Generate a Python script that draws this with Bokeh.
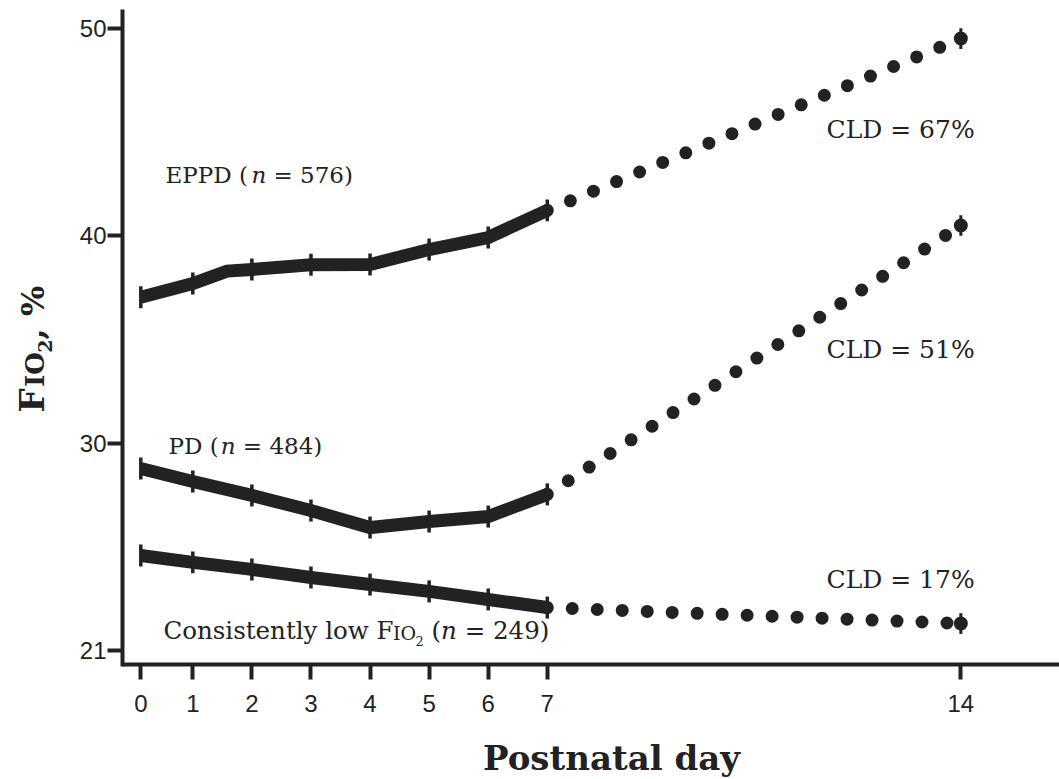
import numpy as np
from bokeh.plotting import figure
from bokeh.models import Range1d, FixedTicker, Label
from bokeh.embed import file_html
from bokeh.resources import INLINE

# ---------------- data ----------------
eppd_days = [0.12, 1, 1.58, 2, 3, 4, 5, 6, 7]
eppd_vals = [37.04, 37.70, 38.30, 38.38, 38.61, 38.62, 39.34, 39.92, 41.23]
days = [0.12, 1, 2, 3, 4, 5, 6, 7]
pd_vals = [28.78, 28.15, 27.48, 26.75, 25.93, 26.22, 26.46, 27.53]
low_vals = [24.58, 24.25, 23.91, 23.52, 23.18, 22.85, 22.46, 22.07]
eppd_err_days = [0.12, 1, 2, 3, 4, 5, 6, 7]
eppd_err_vals = [37.04, 37.70, 38.38, 38.61, 38.62, 39.34, 39.92, 41.23]
end_day = 14
eppd_end = 49.52
pd_end = 40.50
low_end = 21.30
err_solid = 0.53
err_end = 0.50

x_ticks = [0.12, 1, 2, 3, 4, 5, 6, 7, 14]
x_tick_labels = ["0", "1", "2", "3", "4", "5", "6", "7", "14"]
y_ticks = [20, 30, 40, 50]
y_tick_labels = ["21", "30", "40", "50"]
x_axis_min = -0.19
y_axis_min, y_axis_max = 19.32, 50.92

clds = ["CLD = 67%", "CLD = 51%", "CLD = 17%"]

# ---------------- layout ----------------
C = "#222222"
W, H = 1059, 779
AX_L, AX_T = 122, 9          # pixel position of the y axis / top of the y axis
SX, SY = 59.08, 20.73        # pixels per day / per percent
XL = x_axis_min - AX_L / SX
YTOP = y_axis_max + AX_T / SY
XR = XL + W / SX
YBOT = YTOP - H / SY
BL = 0.36                    # baseline correction, in em


def dx(px):
    return XL + px / SX


def dy(py):
    return YTOP - py / SY


p = figure(frame_width=W, frame_height=H,
           x_range=Range1d(XL, XR), y_range=Range1d(YBOT, YTOP),
           output_backend="svg", toolbar_location=None,
           min_border_left=0, min_border_right=0,
           min_border_top=0, min_border_bottom=0)
p.outline_line_color = None
p.xgrid.visible = False
p.ygrid.visible = False
p.background_fill_color = "white"
p.border_fill_color = "white"

for ax, ticks, labels in ((p.xaxis[0], x_ticks, x_tick_labels),
                          (p.yaxis[0], y_ticks, y_tick_labels)):
    ax.ticker = FixedTicker(ticks=ticks)
    ax.major_label_overrides = {t: l for t, l in zip(ticks, labels)}
    ax.axis_line_width = 4
    ax.axis_line_color = C
    ax.major_tick_line_width = 4
    ax.major_tick_line_color = C
    ax.major_tick_out = 15
    ax.major_tick_in = 0
    ax.minor_tick_line_color = None
    ax.major_label_text_font = "Liberation Sans"
    ax.major_label_text_font_size = "24px"
    ax.major_label_text_color = C
p.xaxis.fixed_location = y_axis_min
p.xaxis.bounds = (x_axis_min, XR)
p.yaxis.fixed_location = x_axis_min
p.yaxis.bounds = (y_axis_min - 2 / SY, y_axis_max)
p.xaxis.major_label_standoff = 15
p.yaxis.major_label_standoff = 1

# solid lines
for xs, ys in ((eppd_days, eppd_vals), (days, pd_vals), (days, low_vals)):
    p.line(xs, ys, line_width=13, line_color=C, line_join="miter", line_cap="butt")

# dotted lines to day 14
for v7, v14 in ((eppd_vals[-1], eppd_end), (pd_vals[-1], pd_end), (low_vals[-1], low_end)):
    p.line([7, end_day], [v7, v14], line_width=13, line_color=C,
           line_dash="0 25", line_cap="round")

# error bars on solid segments
for xs, ys in ((eppd_err_days, eppd_err_vals), (days, pd_vals), (days, low_vals)):
    p.segment(x0=xs, y0=[v - err_solid for v in ys], x1=xs, y1=[v + err_solid for v in ys],
              line_width=3.5, line_color=C)

ends = [eppd_end, pd_end, low_end]
p.scatter([end_day] * 3, ends, size=14, marker="circle", fill_color=C, line_color=None)
p.segment(x0=[end_day] * 3, y0=[v - err_end for v in ends], x1=[end_day] * 3,
          y1=[v + err_end for v in ends], line_width=3, line_color=C)

# ---------------- texts ----------------
EM = {' ': 0.318, '(': 0.390, ')': 0.390, '=': 0.838, '%': 0.950, ',': 0.318,
      'E': 0.730, 'P': 0.733, 'D': 0.830, 'C': 0.734, 'L': 0.694, 'F': 0.702,
      'I': 0.365, 'O': 0.820, 'o': 0.602, 'n': 0.644, 's': 0.513, 'i': 0.320,
      't': 0.402, 'e': 0.592, 'l': 0.320, 'y': 0.565, 'w': 0.856}
EMB = {'F': 0.753, 'I': 0.468, 'O': 0.850, '2': 0.696, ',': 0.380, ' ': 0.348, '%': 1.002}


def tw(s, size, table=EM):
    return sum(table.get(c, 0.636) for c in s) * size


SERIF = "DejaVu Serif"


def rich(pieces, px, py):
    cur = px
    for text, size, style, shift in pieces:
        lead = len(text) - len(text.lstrip(" "))
        cur += tw(" " * lead, size)
        body = text.lstrip(" ")
        p.add_layout(Label(x=dx(cur), y=dy(py + shift - BL * size), text=body, text_font=SERIF,
                           text_font_size=f"{size}px", text_font_style=style,
                           text_color=C, text_align="left", text_baseline="alphabetic"))
        cur += tw(body, size)


rich([("EPPD (", 23, "normal", 0), ("n", 23, "italic", 0), (" = 576)", 23, "normal", 0)], 165, 183)
rich([("PD (", 23, "normal", 0), ("n", 23, "italic", 0), (" = 484)", 23, "normal", 0)], 168, 454)
rich([("Consistently low F", 24.5, "normal", 0), ("IO", 19, "normal", 0), ("2", 13, "normal", 6),
      (" (", 24.5, "normal", 0), ("n", 24.5, "italic", 0), (" = 249)", 24.5, "normal", 0)], 163, 639)
for txt, py in zip(clds, (138, 358, 588)):
    rich([(txt, 25, "normal", 0)], 826, py)

# x axis title
p.add_layout(Label(x=dx(611), y=dy(770 - BL * 34), text="Postnatal day", text_font=SERIF,
                   text_font_size="34px", text_font_style="bold", text_color=C,
                   text_align="center", text_baseline="alphabetic"))

# y axis title (rotated), with small-caps IO and subscript 2
cur = 412
for text, size, shift in (("F", 34, 0), ("IO", 26, 0), ("2", 19, 7), (",", 32, 0), ("%", 32, 0)):
    if text == "%":
        cur -= tw(" ", size, EMB)
    p.add_layout(Label(x=dx(44 + shift - BL * size), y=dy(cur), text=text, text_font=SERIF,
                       text_font_size=f"{size}px", text_font_style="bold", text_color=C,
                       angle=np.pi / 2, text_align="left", text_baseline="alphabetic"))
    cur -= tw(text, size, EMB)

open("out.html", "w").write(file_html(p, INLINE))
